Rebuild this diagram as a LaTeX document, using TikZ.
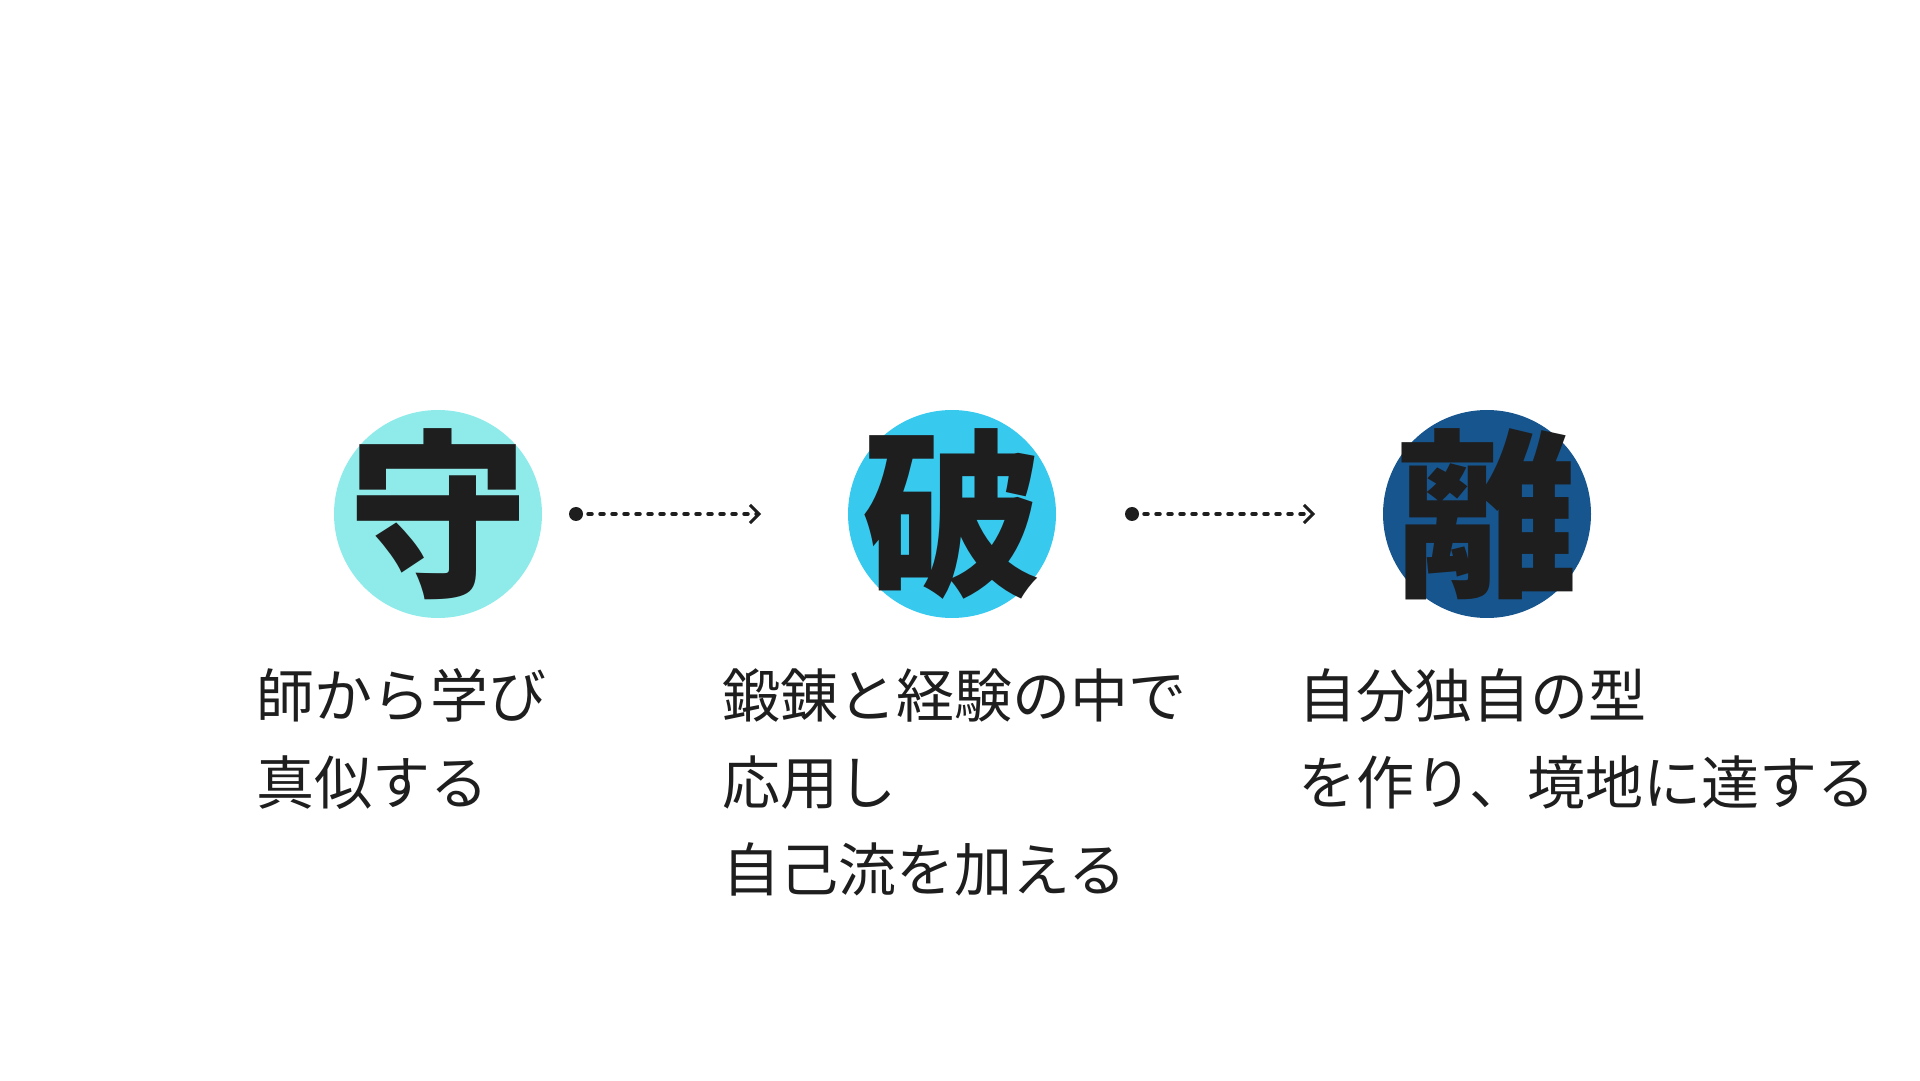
\documentclass[tikz,border=0pt]{standalone}
\usepackage{fontspec}
\setmainfont{Noto Sans CJK JP}
\usetikzlibrary{arrows.meta}
\definecolor{shucol}{HTML}{8EEBEA}
\definecolor{hacol}{HTML}{38C9EF}
\definecolor{ricol}{HTML}{17558E}
\definecolor{ink}{HTML}{1E1E1E}
\tikzset{
  stage/.style={circle,minimum size=208pt,inner sep=0pt},
  glyph/.style={text=ink,font=\fontsize{180}{180}\selectfont\bfseries},
  desc/.style={anchor=north west,align=left,text=ink,inner sep=0pt,
    font=\fontsize{58}{87}\selectfont},
  flow/.style={ink,line width=3.5pt,dash pattern=on 4pt off 8pt,line cap=round,
    -{Straight Barb[length=9pt,width=18pt,line width=3pt]}},
}
\begin{document}
\begin{tikzpicture}[x=1pt,y=1pt]
  \useasboundingbox (0,0) rectangle (1920,1080);

  \node[stage,fill=shucol] (shu) at (438,566) {};
  \node[stage,fill=hacol] (ha) at (952,566) {};
  \node[stage,fill=ricol] (ri) at (1487,566) {};
  \node[glyph] (shuk) at (shu) {守};
  \node[glyph] (hak) at (ha) {破};
  \node[glyph] (rik) at (ri) {離};

  \coordinate (a1) at (576,566);
  \coordinate (a2) at (761,566);
  \coordinate (b1) at (1132,566);
  \coordinate (b2) at (1315,566);
  \fill[ink] (a1) circle (7pt) (b1) circle (7pt);
  \draw[flow] (a1) -- (a2);
  \draw[flow] (b1) -- (b2);

  \node[desc] (shut) at (256,412) {師から学び\\真似する};
  \node[desc] (hat) at (722,412) {鍛錬と経験の中で\\応用し\\自己流を加える};
  \node[desc] (rit) at (1298,412) {自分独自の型\\を作り、境地に達する};
\end{tikzpicture}
\end{document}
